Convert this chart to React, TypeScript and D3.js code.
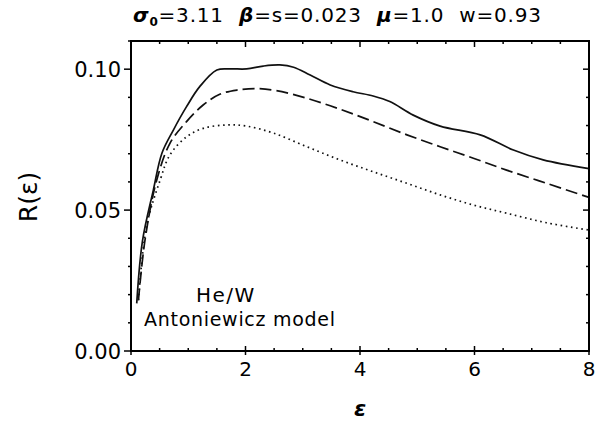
import { useRef, useEffect } from "react";
import * as d3 from "d3";

// epsilon values and R(eps) for the three curves
const solidX = [0.10, 0.2, 0.39, 0.54, 0.74, 0.97, 1.2, 1.5, 1.73, 2.02, 2.31, 2.6, 2.84, 3.13, 3.48, 3.88, 4.23, 4.52, 4.93, 5.4, 6.1, 6.68, 7.2, 8.0];
const solidY = [0.0169, 0.039, 0.0571, 0.0702, 0.0784, 0.0867, 0.0938, 0.0997, 0.1001, 0.1001, 0.1011, 0.1015, 0.1007, 0.0979, 0.0944, 0.092, 0.0905, 0.0885, 0.0837, 0.0798, 0.0767, 0.0713, 0.0678, 0.0647];

const dashX = [0.13, 0.245, 0.45, 0.68, 0.97, 1.26, 1.55, 1.85, 2.19, 2.54, 3.07, 3.65, 4.23, 4.82, 5.4, 5.98, 6.56, 7.26, 8.0];
const dashY = [0.018, 0.0394, 0.0607, 0.0737, 0.0814, 0.0873, 0.0911, 0.0926, 0.0931, 0.0924, 0.0897, 0.0858, 0.0814, 0.0767, 0.0725, 0.0684, 0.0642, 0.0595, 0.0545];

const dotX = [0.13, 0.27, 0.51, 0.68, 0.97, 1.26, 1.67, 2.02, 2.49, 3.07, 3.65, 4.23, 4.82, 5.4, 5.98, 6.56, 7.26, 8.0];
const dotY = [0.018, 0.0441, 0.0607, 0.0696, 0.076, 0.079, 0.0802, 0.0798, 0.0773, 0.0725, 0.0678, 0.0636, 0.0595, 0.0554, 0.0518, 0.0489, 0.0455, 0.0429];

const xTicks = [0, 2, 4, 6, 8];
const yTicks = [0, 0.05, 0.1];

export default function App() {
  const svgRef = useRef<SVGSVGElement>(null);

  useEffect(() => {
    if (!svgRef.current) return;
    const svg = d3.select(svgRef.current);
    svg.selectAll("*").remove();

    const left = 131, right = 589, top = 41, bottom = 351;
    const x = d3.scaleLinear().domain([0, 8]).range([left, right]);
    const y = d3.scaleLinear().domain([0, 0.11]).range([bottom, top]);
    const font = "DejaVu Sans, sans-serif";

    const line = d3.line<[number, number]>()
      .x(d => x(d[0]))
      .y(d => y(d[1]))
      .curve(d3.curveCatmullRom);

    const series = [
      { xs: solidX, ys: solidY, dash: null },
      { xs: dashX, ys: dashY, dash: "12,5" },
      { xs: dotX, ys: dotY, dash: "1.6,3.6" },
    ];
    series.forEach(s => {
      svg.append("path")
        .datum(s.xs.map((v, i) => [v, s.ys[i]] as [number, number]))
        .attr("fill", "none")
        .attr("stroke", "#111")
        .attr("stroke-width", 1.7)
        .attr("stroke-dasharray", s.dash)
        .attr("d", line);
    });

    // frame
    svg.append("rect")
      .attr("x", left).attr("y", top)
      .attr("width", right - left).attr("height", bottom - top)
      .attr("fill", "none").attr("stroke", "#000").attr("stroke-width", 2);

    const g = svg.append("g").attr("stroke", "#000").attr("stroke-width", 1.5);

    // x ticks, minor every 0.5
    d3.range(0, 8.01, 0.5).forEach(v => {
      const major = Math.abs(v % 2) < 1e-9;
      const px = x(v);
      g.append("line").attr("x1", px).attr("x2", px)
        .attr("y1", bottom + (major ? 4 : 0)).attr("y2", bottom - (major ? 5 : 3));
      g.append("line").attr("x1", px).attr("x2", px)
        .attr("y1", top).attr("y2", top + (major ? 6 : 3));
    });

    // y ticks, minor every 0.01
    d3.range(0, 0.1101, 0.01).forEach((v, i) => {
      const major = i % 5 === 0;
      const py = y(v);
      g.append("line").attr("y1", py).attr("y2", py)
        .attr("x1", left - (major ? 7 : 3)).attr("x2", left);
      g.append("line").attr("y1", py).attr("y2", py)
        .attr("x1", right - (major ? 6 : 3)).attr("x2", right);
    });

    svg.append("g").selectAll("text").data(xTicks).join("text")
      .attr("x", d => x(d)).attr("y", 376)
      .attr("text-anchor", "middle")
      .attr("font-family", font).attr("font-size", 20)
      .text(d => String(d));

    svg.append("g").selectAll("text").data(yTicks).join("text")
      .attr("x", 121).attr("y", d => y(d) + 8)
      .attr("text-anchor", "end")
      .attr("font-family", font).attr("font-size", 21)
      .text(d => d.toFixed(2));

    // axis labels
    svg.append("text")
      .attr("x", 360).attr("y", 416)
      .attr("text-anchor", "middle")
      .attr("font-family", font).attr("font-size", 22)
      .attr("font-weight", "bold").attr("font-style", "italic")
      .text("ε");

    svg.append("text")
      .attr("transform", "translate(37,197) rotate(-90)")
      .attr("text-anchor", "middle")
      .attr("font-family", font).attr("font-size", 25)
      .text("R(ε)");

    // title
    const t = svg.append("text")
      .attr("x", 133).attr("y", 22)
      .attr("font-family", font).attr("font-size", 20)
      .attr("letter-spacing", 0.8).attr("word-spacing", 8);
    const greek = (s: string) => t.append("tspan").attr("font-weight", "bold").attr("font-style", "italic").text(s);
    greek("σ");
    t.append("tspan").attr("font-size", 12).attr("font-weight", "bold").attr("dy", 4).text("0");
    t.append("tspan").attr("dy", -4).text("=3.11 ");
    greek("β");
    t.append("tspan").text("=s=0.023 ");
    greek("μ");
    t.append("tspan").text("=1.0 w=0.93");

    // annotation
    svg.append("text")
      .attr("x", 196).attr("y", 302)
      .attr("font-family", font).attr("font-size", 20)
      .attr("letter-spacing", 1.5)
      .text("He/W");
    svg.append("text")
      .attr("x", 144).attr("y", 326)
      .attr("font-family", font).attr("font-size", 19)
      .attr("textLength", 191).attr("lengthAdjust", "spacing")
      .text("Antoniewicz model");
  }, []);

  return (
    <svg
      ref={svgRef}
      width={597}
      height={422}
      style={{ position: "absolute", left: 0, top: 0, background: "#fff" }}
    />
  );
}
